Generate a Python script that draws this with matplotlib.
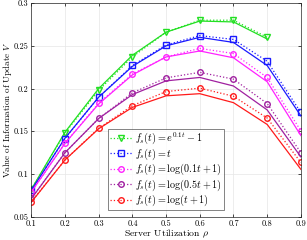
import matplotlib
matplotlib.use('Agg')
import matplotlib.pyplot as plt

# server utilization
rho = [0.1, 0.2, 0.3, 0.4, 0.5, 0.6, 0.7, 0.8, 0.9]
rho_exp = [0.1, 0.2, 0.3, 0.4, 0.5, 0.6, 0.7, 0.8]

# simulation (dotted, with markers)
sim_exp = [0.082, 0.148, 0.198, 0.237, 0.266, 0.280, 0.280, 0.260]
sim_lin = [0.081, 0.1415, 0.190, 0.227, 0.251, 0.262, 0.2575, 0.232, 0.172]
sim_log01 = [0.079, 0.136, 0.183, 0.217, 0.237, 0.247, 0.241, 0.213, 0.1505]
sim_log05 = [0.0715, 0.125, 0.165, 0.195, 0.2125, 0.219, 0.211, 0.1825, 0.125]
sim_log1 = [0.0675, 0.1165, 0.1535, 0.180, 0.1965, 0.2005, 0.191, 0.1655, 0.1135]

# analysis (solid)
th_exp = [0.082, 0.149, 0.200, 0.239, 0.266, 0.279, 0.278, 0.258]
th_lin = [0.081, 0.142, 0.190, 0.226, 0.250, 0.260, 0.254, 0.227, 0.168]
th_log01 = [0.079, 0.136, 0.182, 0.216, 0.237, 0.244, 0.236, 0.208, 0.145]
th_log05 = [0.071, 0.125, 0.165, 0.193, 0.209, 0.213, 0.203, 0.175, 0.120]
th_log1 = [0.067, 0.1165, 0.153, 0.178, 0.1915, 0.194, 0.1835, 0.158, 0.1055]

labels = [r'$f_s(t)=e^{0.1t}-1$', r'$f_s(t)=t$', r'$f_s(t)=\log(0.1t+1)$',
          r'$f_s(t)=\log(0.5t+1)$', r'$f_s(t)=\log(t+1)$']
colors = ['#22e022', '#1a1aff', '#ff22ff', '#a020a0', '#ff1a1a']
markers = ['v', 's', 'o', 'o', 'o']

plt.rcParams['font.family'] = 'serif'
plt.rcParams['font.serif'] = ['cmr10', 'DejaVu Serif']
plt.rcParams['mathtext.fontset'] = 'cm'
plt.rcParams['axes.formatter.use_mathtext'] = True
plt.rcParams['axes.unicode_minus'] = False

fig = plt.figure(figsize=(3.07, 2.4), dpi=100)
ax = fig.add_axes([0.102, 0.097, 0.878, 0.89])

sims = [sim_exp, sim_lin, sim_log01, sim_log05, sim_log1]
ths = [th_exp, th_lin, th_log01, th_log05, th_log1]
xs = [rho_exp, rho, rho, rho, rho]

for x, s, t, c, m, lab in zip(xs, sims, ths, colors, markers, labels):
    ax.plot(x, s, ':', color=c, marker=m, markersize=4, markerfacecolor='none',
            markeredgewidth=1.0, linewidth=0.9, label=lab)
    ax.plot(x, t, '-', color=c, linewidth=0.9)

ax.set_xlim(0.1, 0.9)
ax.set_ylim(0.05, 0.3)
ax.set_xticks([0.1, 0.2, 0.3, 0.4, 0.5, 0.6, 0.7, 0.8, 0.9])
ax.set_yticks([0.05, 0.1, 0.15, 0.2, 0.25, 0.3])
ax.set_xticklabels(['0.1', '0.2', '0.3', '0.4', '0.5', '0.6', '0.7', '0.8', '0.9'])
ax.set_yticklabels(['0.05', '0.1', '0.15', '0.2', '0.25', '0.3'])
ax.tick_params(direction='in', labelsize=6, length=2.5, width=0.5,
               top=True, right=True, pad=2)
ax.grid(True, color='#e6e6e6', linewidth=0.5)
for sp in ax.spines.values():
    sp.set_linewidth(0.5)
    sp.set_color('#262626')

ax.set_xlabel(r'Server Utilization $\rho$', fontsize=7, labelpad=0)
ax.set_ylabel(r'Value of Information of Update $V$', fontsize=6.5, va='center')
ax.yaxis.set_label_coords(-0.09, 0.5)

leg = ax.legend(loc='lower left', bbox_to_anchor=(0.284, 0.03), fontsize=7.3,
                frameon=True, fancybox=False, handlelength=2.2, handletextpad=0.3,
                borderpad=0.2, labelspacing=0.02, borderaxespad=0)
leg.get_frame().set_edgecolor('#262626')
leg.get_frame().set_linewidth(0.5)

fig.savefig('out.png', dpi=100)
